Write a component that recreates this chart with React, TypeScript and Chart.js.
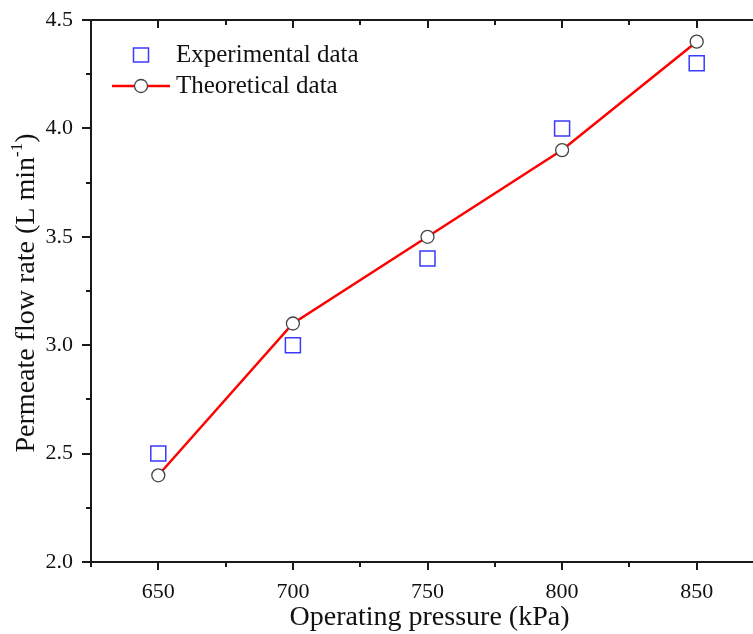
import React, { useEffect, useRef } from 'react';
import { Chart, registerables } from 'chart.js';

Chart.register(...registerables);

// ---- data ----
const pressures = [650, 700, 750, 800, 850];
const experimental = [2.5, 3.0, 3.4, 4.0, 4.3];
const theoretical = [2.4, 3.1, 3.5, 3.9, 4.4];
const xMajorTicks = [650, 700, 750, 800, 850];
const xMinorTicks = [625, 675, 725, 775, 825, 875];
const yMajorTicks = [2.0, 2.5, 3.0, 3.5, 4.0, 4.5];
const yMinorTicks = [2.25, 2.75, 3.25, 3.75, 4.25];
const xTitle = 'Operating pressure (kPa)';
const yTitleMain = 'Permeate flow rate (L min';
const yTitleSup = '-1';
const yTitleEnd = ')';
const legendLabels = ['Experimental data', 'Theoretical data'];

const FONT = '"Liberation Serif", "Times New Roman", serif';
const AXIS_COLOR = '#1a1a1a';
const SQUARE_COLOR = '#3a3aff';
const CIRCLE_COLOR = '#444444';
const LINE_COLOR = '#ff0000';

const CANVAS_W = 800;
const CANVAS_H = 634;

const framePlugin = {
  id: 'framePlugin',
  beforeDatasetsDraw(chart: any) {
    const { ctx, chartArea } = chart;
    const { left, right, top, bottom } = chartArea;
    const xs = chart.scales.x;
    const ys = chart.scales.y;
    ctx.save();
    ctx.strokeStyle = AXIS_COLOR;
    ctx.lineWidth = 2;
    ctx.lineCap = 'butt';
    ctx.beginPath();
    // left, top and bottom axis lines (right axis lies outside the visible window)
    ctx.moveTo(left, top - 1);
    ctx.lineTo(left, bottom + 1);
    ctx.moveTo(left - 1, top);
    ctx.lineTo(right + 1, top);
    ctx.moveTo(left - 1, bottom);
    ctx.lineTo(right + 1, bottom);
    ctx.moveTo(right, top);
    ctx.lineTo(right, bottom);
    ctx.stroke();
    ctx.beginPath();
    xMajorTicks.forEach((v) => {
      const px = Math.round(xs.getPixelForValue(v));
      ctx.moveTo(px, bottom);
      ctx.lineTo(px, bottom + 8);
      ctx.moveTo(px, top);
      ctx.lineTo(px, top + 8);
    });
    xMinorTicks.forEach((v) => {
      const px = Math.round(xs.getPixelForValue(v));
      ctx.moveTo(px, bottom);
      ctx.lineTo(px, bottom + 5);
      ctx.moveTo(px, top);
      ctx.lineTo(px, top + 5);
    });
    yMajorTicks.forEach((v) => {
      const py = Math.round(ys.getPixelForValue(v));
      ctx.moveTo(left, py);
      ctx.lineTo(left - 9, py);
    });
    yMinorTicks.forEach((v) => {
      const py = Math.round(ys.getPixelForValue(v));
      ctx.moveTo(left, py);
      ctx.lineTo(left - 5, py);
    });
    ctx.stroke();
    ctx.restore();
  },
  afterDraw(chart: any) {
    const { ctx, chartArea } = chart;
    ctx.save();
    ctx.fillStyle = '#111';
    ctx.font = `28px ${FONT}`;
    ctx.textAlign = 'center';
    ctx.textBaseline = 'middle';
    ctx.fillText(xTitle, (chartArea.left + chartArea.right) / 2 + 2, 618);

    ctx.save();
    ctx.translate(27, (chartArea.top + chartArea.bottom) / 2 + 2);
    ctx.rotate(-Math.PI / 2);
    ctx.font = `28px ${FONT}`;
    const w1 = ctx.measureText(yTitleMain).width;
    const w3 = ctx.measureText(yTitleEnd).width;
    ctx.font = `17px ${FONT}`;
    const w2 = ctx.measureText(yTitleSup).width;
    const total = w1 + w2 + w3;
    let x0 = -total / 2;
    ctx.textAlign = 'left';
    ctx.textBaseline = 'middle';
    ctx.font = `28px ${FONT}`;
    ctx.fillText(yTitleMain, x0, 0);
    x0 += w1;
    ctx.font = `17px ${FONT}`;
    ctx.fillText(yTitleSup, x0, -9);
    x0 += w2;
    ctx.font = `28px ${FONT}`;
    ctx.fillText(yTitleEnd, x0, 0);
    ctx.restore();

    const lx = 141;
    const ly1 = 55;
    const ly2 = 86;
    ctx.strokeStyle = SQUARE_COLOR;
    ctx.lineWidth = 1.5;
    ctx.strokeRect(lx - 7.5, ly1 - 7, 15, 14);
    ctx.strokeStyle = LINE_COLOR;
    ctx.lineWidth = 2.5;
    ctx.beginPath();
    ctx.moveTo(112, ly2);
    ctx.lineTo(170, ly2);
    ctx.stroke();
    ctx.fillStyle = '#ffffff';
    ctx.strokeStyle = CIRCLE_COLOR;
    ctx.lineWidth = 1.3;
    ctx.beginPath();
    ctx.arc(lx, ly2, 6.5, 0, Math.PI * 2);
    ctx.fill();
    ctx.stroke();
    ctx.fillStyle = '#111';
    ctx.font = `25px ${FONT}`;
    ctx.textAlign = 'left';
    ctx.textBaseline = 'middle';
    ctx.fillText(legendLabels[0], 176, ly1);
    ctx.fillText(legendLabels[1], 176, ly2);
    ctx.restore();
  },
};

export default function App() {
  const canvasRef = useRef<HTMLCanvasElement | null>(null);

  useEffect(() => {
    document.body.style.margin = '0';
    const canvas = canvasRef.current;
    if (!canvas) return;
    const chart = new Chart(canvas, {
      type: 'line',
      data: {
        datasets: [
          {
            label: legendLabels[1],
            data: pressures.map((p, i) => ({ x: p, y: theoretical[i] })),
            borderColor: LINE_COLOR,
            borderWidth: 2.5,
            backgroundColor: '#ffffff',
            pointStyle: 'circle',
            pointRadius: 6.5,
            pointBorderColor: CIRCLE_COLOR,
            pointBackgroundColor: '#ffffff',
            pointBorderWidth: 1.3,
            tension: 0,
            order: 1,
          },
          {
            label: legendLabels[0],
            data: pressures.map((p, i) => ({ x: p, y: experimental[i] })),
            showLine: false,
            borderColor: SQUARE_COLOR,
            backgroundColor: 'rgba(0,0,0,0)',
            pointStyle: 'rect',
            pointRadius: 10.6,
            pointBorderColor: SQUARE_COLOR,
            pointBackgroundColor: 'rgba(0,0,0,0)',
            pointBorderWidth: 1.5,
            order: 2,
          },
        ],
      },
      options: {
        responsive: false,
        animation: false,
        devicePixelRatio: 1,
        layout: { padding: { left: 0, right: CANVAS_W - 764, top: 20, bottom: 0 } },
        plugins: {
          legend: { display: false },
          tooltip: { enabled: false },
          title: { display: false },
        },
        scales: {
          x: {
            type: 'linear',
            min: 625,
            max: 875,
            grid: { display: false, drawTicks: false },
            border: { display: false },
            afterBuildTicks: (s: any) => {
              s.ticks = xMajorTicks.map((v) => ({ value: v }));
            },
            afterFit: (s: any) => {
              s.height = 72;
              s.paddingLeft = 0;
              s.paddingRight = 0;
            },
            ticks: {
              padding: 17,
              color: '#111',
              font: { family: FONT, size: 22 },
              maxRotation: 0,
              callback: (v: any) => String(v),
            },
          },
          y: {
            type: 'linear',
            min: 2.0,
            max: 4.5,
            grid: { display: false, drawTicks: false },
            border: { display: false },
            afterBuildTicks: (s: any) => {
              s.ticks = yMajorTicks.map((v) => ({ value: v }));
            },
            afterFit: (s: any) => {
              s.width = 91;
              s.paddingTop = 0;
              s.paddingBottom = 0;
            },
            ticks: {
              padding: 18,
              color: '#111',
              font: { family: FONT, size: 22 },
              callback: (v: any) => Number(v).toFixed(1),
            },
          },
        },
      },
      plugins: [framePlugin],
    } as any);
    return () => chart.destroy();
  }, []);

  return (
    <div style={{ position: 'absolute', left: 0, top: 0, width: 753, height: 634, overflow: 'hidden', background: '#fff' }}>
      <canvas ref={canvasRef} width={CANVAS_W} height={CANVAS_H} style={{ display: 'block' }} />
    </div>
  );
}
